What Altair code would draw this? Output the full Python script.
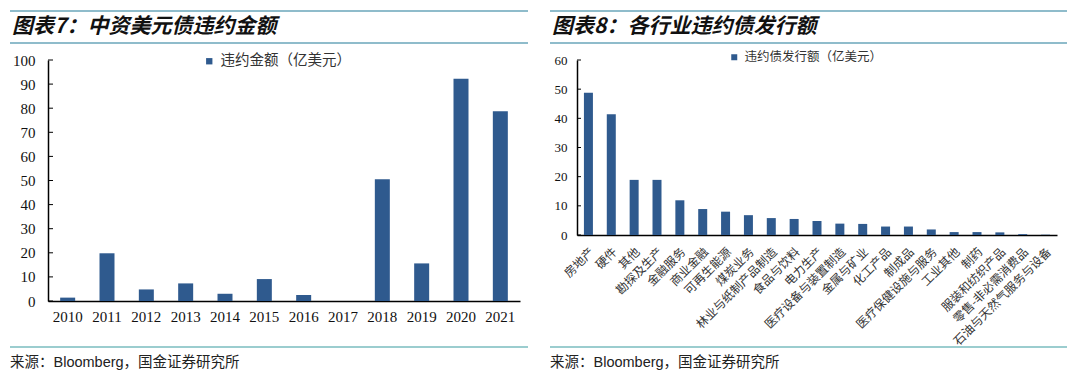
import altair as alt
import pandas as pd

# ---------------- data ----------------
years = ["2010", "2011", "2012", "2013", "2014", "2015", "2016", "2017",
         "2018", "2019", "2020", "2021"]
default_amounts = [1.4, 19.8, 4.8, 7.3, 3.0, 9.1, 2.5, 0.0, 50.5, 15.6, 92.2, 78.7]

industries = ["房地产", "硬件", "其他", "勘探及生产", "金融服务", "商业金融",
              "可再生能源", "煤炭业务", "林业与纸制产品制造", "食品与饮料",
              "电力生产", "医疗设备与装置制造", "金属与矿业", "化工产品", "制成品",
              "医疗保健设施与服务", "工业其他", "制药", "服装和纺织产品",
              "零售-非必需消费品", "石油与天然气服务与设备"]
industry_amounts = [48.8, 41.4, 18.9, 18.9, 11.9, 8.9, 8.0, 6.8, 5.8, 5.5,
                    4.8, 3.9, 3.8, 2.9, 2.9, 1.9, 1.0, 1.0, 0.9, 0.3, 0.1]

left_ticks = [0, 10, 20, 30, 40, 50, 60, 70, 80, 90, 100]
right_ticks = [0, 10, 20, 30, 40, 50, 60]

title_left = "图表7：中资美元债违约金额"
title_right = "图表8：各行业违约债发行额"
legend_left = "违约金额（亿美元）"
legend_right = "违约债发行额（亿美元）"
source_text = "来源：Bloomberg，国金证券研究所"

# ---------------- style ----------------
BAR = "#2F5A8E"
RULE_TOP = "#8FBCCB"
RULE_BOTTOM = "#9BCDCF"
SERIF = "Liberation Serif"
CJK = "Noto Sans CJK SC"
MIXED = "Liberation Sans, Arial, Noto Sans CJK SC"

one = pd.DataFrame({"k": [0]})


def decorations(x0, x1, title):
    top = alt.Chart(one).mark_rule(color=RULE_TOP, strokeWidth=2).encode(
        x=alt.value(x0), x2=alt.value(x1), y=alt.value(-49))
    mid = alt.Chart(one).mark_rule(color=RULE_TOP, strokeWidth=2).encode(
        x=alt.value(x0), x2=alt.value(x1), y=alt.value(-17))
    bot = alt.Chart(one).mark_rule(color=RULE_BOTTOM, strokeWidth=2).encode(
        x=alt.value(x0), x2=alt.value(x1), y=alt.value(287))
    ttl = alt.Chart(one).mark_text(
        align="left", baseline="middle", font=CJK, fontSize=21,
        fontWeight="bold", fontStyle="italic", color="#111").encode(
        x=alt.value(x0 + 2), y=alt.value(-33), text=alt.value(title))
    src = alt.Chart(one).mark_text(
        align="left", baseline="middle", font=MIXED, fontSize=14.5,
        color="#222").encode(
        x=alt.value(x0), y=alt.value(303), text=alt.value(source_text))
    return [top, mid, bot, ttl, src]


# ---------------- left panel ----------------
df_left = pd.DataFrame({"year": years, "amount": default_amounts,
                        "series": legend_left})
yscale_left = alt.Scale(domain=[0, 100], nice=False)
yaxis_left = alt.Axis(values=left_ticks, labelFont=SERIF, labelFontSize=15,
                      labelColor="#111", ticks=False, labelPadding=13,
                      domainColor="#000", domainWidth=1.5, grid=False)

bars_left = alt.Chart(df_left).mark_bar(size=15).encode(
    x=alt.X("year:N", sort=years, title=None,
            scale=alt.Scale(paddingInner=0, paddingOuter=0),
            axis=alt.Axis(labelAngle=0, labelFont=SERIF, labelFontSize=15,
                          labelColor="#111", ticks=False, domainColor="#000",
                          domainWidth=1.5, labelPadding=8, grid=False)),
    y=alt.Y("amount:Q", scale=yscale_left, title=None, axis=yaxis_left),
    color=alt.Color("series:N", scale=alt.Scale(range=[BAR]),
                    legend=alt.Legend(orient="none", legendX=154, legendY=-6,
                                      title=None, symbolType="square",
                                      symbolSize=40, labelFont=CJK,
                                      labelFontSize=14.5, labelColor="#333",
                                      symbolStrokeWidth=0)),
)

ticks_left = alt.Chart(pd.DataFrame({"v": left_ticks})).mark_rule(
    color="#000", strokeWidth=1).encode(
    y=alt.Y("v:Q", scale=yscale_left, title=None, axis=yaxis_left),
    x=alt.value(0), x2=alt.value(5))

left = alt.layer(bars_left, ticks_left, *decorations(-38, 480, title_left)).properties(
    width=472, height=241)

# ---------------- right panel ----------------
df_right = pd.DataFrame({"industry": industries, "amount": industry_amounts,
                         "series": legend_right})
yscale_right = alt.Scale(domain=[0, 60], nice=False)
yaxis_right = alt.Axis(values=right_ticks, labelFont=SERIF, labelFontSize=13,
                       labelColor="#111", ticks=False, labelPadding=10,
                       domainColor="#000", domainWidth=1.5, grid=False)

bars_right = alt.Chart(df_right).mark_bar(size=9).encode(
    x=alt.X("industry:N", sort=industries, title=None,
            scale=alt.Scale(paddingInner=0, paddingOuter=0),
            axis=alt.Axis(labelAngle=-45, labelFont=CJK, labelFontSize=12,
                          labelColor="#333", ticks=False, domainColor="#000",
                          domainWidth=1.5, labelPadding=11, grid=False)),
    y=alt.Y("amount:Q", scale=yscale_right, title=None, axis=yaxis_right),
    color=alt.Color("series:N", scale=alt.Scale(range=[BAR]),
                    legend=alt.Legend(orient="none", legendX=151, legendY=-9,
                                      title=None, symbolType="square",
                                      symbolSize=36, labelFont=CJK,
                                      labelFontSize=12.5, labelColor="#333",
                                      symbolStrokeWidth=0)),
)

ticks_right = alt.Chart(pd.DataFrame({"v": right_ticks})).mark_rule(
    color="#000", strokeWidth=1).encode(
    y=alt.Y("v:Q", scale=yscale_right, title=None, axis=yaxis_right),
    x=alt.value(0), x2=alt.value(4))

right = alt.layer(bars_right, ticks_right, *decorations(-27, 490, title_right)).properties(
    width=480, height=175)

chart = alt.hconcat(left, right, spacing=57, bounds="flush").resolve_scale(
    color="independent").resolve_legend(color="independent").properties(
    padding={"left": 1, "top": 2, "right": 0, "bottom": 0},
    background="white").configure_view(stroke=None)

chart.save("out.html", embed_options={"renderer": "svg", "actions": False})
